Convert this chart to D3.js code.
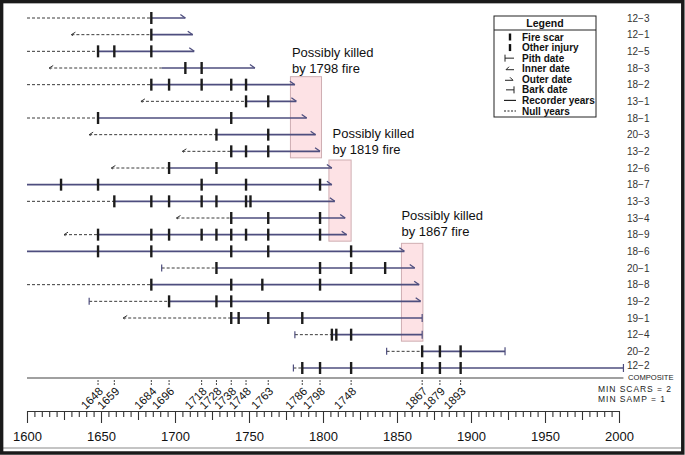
<!DOCTYPE html>
<html><head><meta charset="utf-8">
<script src="https://cdn.jsdelivr.net/npm/d3@7"></script>
<style>
body{margin:0;background:#fff;}
svg{display:block;font-family:Arial,"Liberation Sans",Helvetica,sans-serif;}
</style>
</head><body>
<svg id="chart" width="685" height="455"></svg>
<script>
// ---------------- DATA ----------------
const series     = ["12-3","12-1","12-5","18-3","18-2","13-1","18-1","20-3","13-2","12-6","18-7","13-3","13-4","18-9","18-6","20-1","18-8","19-2","19-1","12-4","20-2","12-2"];
const startYear  = [1600, 1630, 1600, 1615, 1600, 1677, 1600, 1642, 1705, 1657, 1600, 1600, 1701, 1625, 1600, 1691, 1600, 1642, 1665, 1781, 1843, 1780];
const startType  = ["none","inner","none","inner","none","inner","none","inner","inner","inner","none","none","inner","inner","none","pith","none","pith","inner","pith","pith","pith"];
const recStart   = [1684, 1684, 1648, 1691, 1684, 1748, 1648, 1728, 1738, 1696, 1600, 1659, 1738, 1648, 1600, 1728, 1684, 1696, 1738, 1806, 1867, 1786];
const endYear    = [1707, 1712, 1713, 1754, 1781, 1782, 1789, 1795, 1798, 1806, 1806, 1808, 1815, 1816, 1855, 1862, 1865, 1866, 1867, 1867, 1923, 2003];
const endType    = ["outer","outer","outer","outer","outer","outer","outer","outer","outer","outer","outer","outer","outer","outer","outer","outer","outer","outer","bark","bark","bark","bark"];
const scarYears  = [
  [1684],
  [1684],
  [1648,1659,1684],
  [1707,1718],
  [1684,1696,1718,1738,1748],
  [1748,1763],
  [1648,1738],
  [1728,1763],
  [1738,1748,1763],
  [1696,1728],
  [1623,1648,1718,1748,1798],
  [1659,1684,1696,1718,1728,1748,1751],
  [1738,1763,1798],
  [1648,1684,1696,1718,1728,1738,1748,1763,1798],
  [1648,1684,1738,1763,1819],
  [1728,1798,1819,1842],
  [1684,1738,1759,1798],
  [1696,1728,1738],
  [1738,1743,1763,1786],
  [1806,1809,1819],
  [1867,1879,1893],
  [1786,1798,1819,1867,1879,1893]
];
const compositeYears  = [1648,1659,1684,1696,1718,1728,1738,1748,1763,1786,1798,1819,1867,1879,1893];
const compositeLabels = ["1648","1659","1684","1696","1718","1728","1738","1748","1763","1786","1798","1748","1867","1879","1893"];
const axisTicks       = d3.range(1600, 2001, 5);
const axisLabels      = [1600,1650,1700,1750,1800,1850,1900,1950,2000];

const killedFire   = [1798, 1819, 1867];
const killedFrom   = [1778, 1804, 1853];
const killedTo     = [1799, 1819, 1867.5];
const killedRow0   = ["18-2","12-6","18-6"];
const killedRow1   = ["13-2","18-9","12-4"];

const legendItems  = ["Fire scar","Other injury","Pith date","Inner date","Outer date","Bark date","Recorder years","Null years"];

// ---------------- DRAW ----------------
const svg = d3.select("#chart");
const lineCol = "#4e4e7e", scarCol = "#1c1c1c", nullCol = "#3a3a3a";

const x = d3.scaleLinear().domain([1600, 2000]).range([27, 619]);
const y = d3.scalePoint().domain(series).range([18, 368]);

// pink boxes
killedFire.forEach((f, i) => {
  svg.append("rect")
    .attr("x", x(killedFrom[i])).attr("width", x(killedTo[i]) - x(killedFrom[i]))
    .attr("y", y(killedRow0[i]) - 8).attr("height", y(killedRow1[i]) - y(killedRow0[i]) + 14.5)
    .attr("fill", "#fde2e5").attr("stroke", "#cfaeb2").attr("stroke-width", 1);
});
const annX = [1.5, 4, 0];
const annY = [-20, -22, -23];
killedFire.forEach((f, i) => {
  const t = svg.append("text").attr("font-size", 13).attr("fill", "#111");
  const bx = (i === 1 ? x(killedTo[0]) + 8 : x(killedFrom[i])) + (i === 1 ? 3 : annX[i]);
  const by = y(killedRow0[i]) - 8 + annY[i];
  t.append("tspan").attr("x", bx).attr("y", by).text("Possibly killed");
  t.append("tspan").attr("x", bx).attr("y", by + 16).text("by " + f + " fire");
});

// rows
series.forEach((s, i) => {
  const yy = y(s);
  const g = svg.append("g");
  const x0 = x(startYear[i]), xr = x(recStart[i]), x1 = x(endYear[i]);
  if (recStart[i] > startYear[i]) {
    g.append("line").attr("x1", x0).attr("x2", xr).attr("y1", yy).attr("y2", yy)
      .attr("stroke", nullCol).attr("stroke-width", 1).attr("stroke-dasharray", "3,2");
  }
  g.append("line").attr("x1", xr).attr("x2", x1).attr("y1", yy).attr("y2", yy)
    .attr("stroke", lineCol).attr("stroke-width", 1.6);
  if (startType[i] === "pith") {
    g.append("line").attr("x1", x0).attr("x2", x0).attr("y1", yy - 3.5).attr("y2", yy + 3.5)
      .attr("stroke", lineCol).attr("stroke-width", 1.2);
  } else if (startType[i] === "inner") {
    g.append("path").attr("d", `M${x0 + 4},${yy - 2.5}L${x0},${yy}L${x0 + 1.5},${yy + 1}`)
      .attr("fill", "none").attr("stroke", "#333").attr("stroke-width", 1);
  }
  if (endType[i] === "outer") {
    g.append("path").attr("d", `M${x1 - 5},${yy - 3.5}L${x1},${yy}`)
      .attr("fill", "none").attr("stroke", lineCol).attr("stroke-width", 1.3);
  } else if (endType[i] === "bark") {
    g.append("line").attr("x1", x1).attr("x2", x1).attr("y1", yy - 4).attr("y2", yy + 4)
      .attr("stroke", lineCol).attr("stroke-width", 1.2);
  }
  g.selectAll("line.scar").data(scarYears[i]).join("line").attr("class", "scar")
    .attr("x1", d => x(d)).attr("x2", d => x(d)).attr("y1", yy - 6).attr("y2", yy + 6)
    .attr("stroke", scarCol).attr("stroke-width", 2.4);
  const last = i === series.length - 1;
  svg.append("text").attr("x", 627).attr("y", yy + (last ? 1 : 3.5)).attr("font-size", 10).attr("fill", "#333")
    .text(s.replace("-", "\u2212"));
});

// composite
const compY = 378;
svg.append("line").attr("x1", x(1600)).attr("x2", x(d3.max(endYear))).attr("y1", compY).attr("y2", compY)
  .attr("stroke", "#808080").attr("stroke-width", 1.6);
svg.append("text").attr("x", 628).attr("y", 380).attr("font-size", 7.6).attr("fill", "#222").text("COMPOSITE");
svg.selectAll("line.ct").data(compositeYears).join("line").attr("class", "ct")
  .attr("x1", d => x(d)).attr("x2", d => x(d)).attr("y1", compY + 2).attr("y2", compY + 8)
  .attr("stroke", "#444").attr("stroke-width", 1).attr("stroke-dasharray", "2,1");
svg.selectAll("text.cl").data(compositeYears).join("text").attr("class", "cl")
  .attr("transform", d => `translate(${x(d) + 3},${compY + 11}) rotate(-45)`)
  .attr("text-anchor", "end").attr("dy", "0.35em").attr("font-size", 11.5).attr("fill", "#111")
  .text((d, i) => compositeLabels[i]);

svg.append("text").attr("x", 598).attr("y", 392).attr("font-size", 8.5).attr("fill", "#222")
  .attr("textLength", 73).attr("lengthAdjust", "spacing").text("MIN SCARS = 2");
svg.append("text").attr("x", 598).attr("y", 401.5).attr("font-size", 8.5).attr("fill", "#222")
  .attr("textLength", 67).attr("lengthAdjust", "spacing").text("MIN SAMP = 1");

// time axis
const axis = d3.axisBottom(x).tickValues(axisTicks).tickSizeInner(6).tickSizeOuter(0).tickPadding(15)
  .tickFormat(d => axisLabels.includes(d) ? d : "");
const gA = svg.append("g").attr("transform", "translate(0,411)").call(axis);
gA.select(".domain").attr("stroke", "#333").attr("stroke-width", 1.2);
gA.selectAll(".tick line").attr("stroke", "#333").attr("stroke-width", 1.1)
  .attr("y2", d => d % 50 === 0 ? 12 : (d % 25 === 0 ? 9 : 6));
gA.selectAll(".tick text").attr("font-size", 13).attr("fill", "#111").attr("font-family", "Arial,'Liberation Sans',sans-serif");

// legend
const lg = svg.append("g").attr("transform", "translate(494,16)");
lg.append("rect").attr("width", 102).attr("height", 101).attr("fill", "#fff").attr("stroke", "#222").attr("stroke-width", 1);
lg.append("line").attr("x1", 0).attr("x2", 102).attr("y1", 14).attr("y2", 14).attr("stroke", "#222");
lg.append("text").attr("x", 51).attr("y", 11).attr("text-anchor", "middle").attr("font-size", 10.5).attr("font-weight", "bold").attr("fill", "#111").text("Legend");
const ly = d3.scalePoint().domain(legendItems).range([21, 95]);
legendItems.forEach((t, i) => {
  const yy = ly(t), sx = 16;
  lg.append("text").attr("x", 28).attr("y", yy + 3.5).attr("font-size", 10).attr("font-weight", "bold").attr("fill", "#111").text(t);
  const sym = lg.append("g");
  if (i < 2) {
    sym.append("line").attr("x1", sx).attr("x2", sx).attr("y1", yy - 3.5).attr("y2", yy + 3.5).attr("stroke", "#111").attr("stroke-width", 2.4);
  } else if (i === 2) {
    sym.append("path").attr("d", `M${sx - 5},${yy - 3.5}V${yy + 3.5}M${sx - 5},${yy}H${sx + 4}`).attr("stroke", "#222").attr("fill", "none");
  } else if (i === 3) {
    sym.append("path").attr("d", `M${sx + 4},${yy + 1}H${sx - 4}L${sx - 1},${yy - 2}`).attr("stroke", "#222").attr("fill", "none");
  } else if (i === 4) {
    sym.append("path").attr("d", `M${sx - 5},${yy + 1}H${sx + 3}L${sx},${yy - 2}`).attr("stroke", "#222").attr("fill", "none");
  } else if (i === 5) {
    sym.append("path").attr("d", `M${sx - 4},${yy}H${sx + 4}M${sx + 4},${yy - 3.5}V${yy + 3.5}`).attr("stroke", "#222").attr("fill", "none");
  } else if (i === 6) {
    sym.append("line").attr("x1", sx - 6).attr("x2", sx + 6).attr("y1", yy).attr("y2", yy).attr("stroke", "#222").attr("stroke-width", 1.2);
  } else {
    sym.append("line").attr("x1", sx - 6).attr("x2", sx + 6).attr("y1", yy).attr("y2", yy).attr("stroke", "#222").attr("stroke-width", 1.2).attr("stroke-dasharray", "2,1.5");
  }
});

// frame
svg.append("line").attr("x1", 3).attr("x2", 681).attr("y1", 448).attr("y2", 448).attr("stroke", "#b0b0b0").attr("stroke-width", 1.5);
svg.append("rect").attr("x", 1.6).attr("y", 1.6).attr("width", 681.2).attr("height", 451.4)
  .attr("fill", "none").attr("stroke", "#1a1a1a").attr("stroke-width", 3.5);
</script>
</body></html>
